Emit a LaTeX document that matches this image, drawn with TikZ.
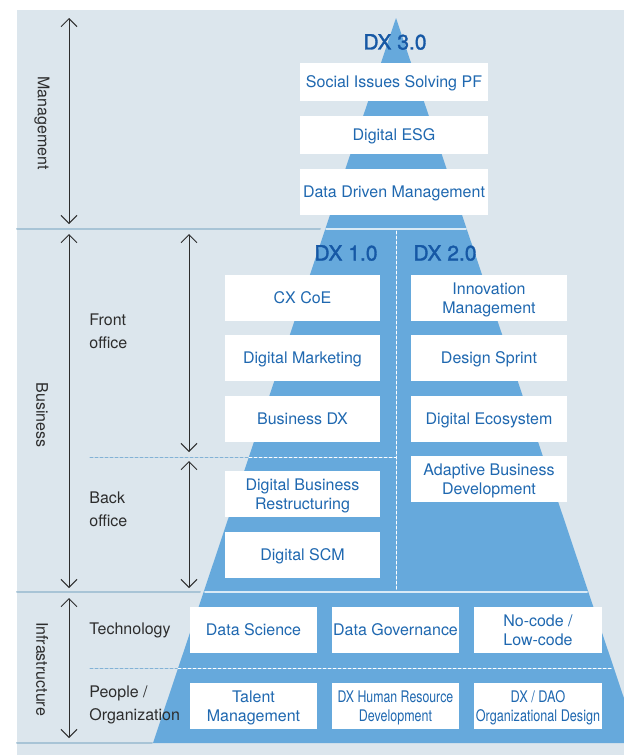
\documentclass[tikz,border=0pt]{standalone}
\usepackage{fontspec}
\usepackage{graphicx}
\setmainfont{TeX Gyre Heros}
\newfontfamily\dxmedium[FakeBold=1.6]{TeX Gyre Heros}
\usetikzlibrary{arrows.meta}
\definecolor{dxbg}{RGB}{220,230,237}
\definecolor{dxpyr}{RGB}{102,169,220}
\definecolor{dxtext}{RGB}{31,104,176}
\definecolor{dxtitle}{RGB}{22,88,165}
\definecolor{dxrule}{RGB}{168,196,214}
\definecolor{dxdash}{RGB}{130,178,214}
\definecolor{dxink}{RGB}{45,45,45}

\begin{document}
\begin{tikzpicture}[x=0.5pt,y=-0.5pt,line cap=round,line join=round,
  font=\fontsize{8}{9.3}\selectfont,
  card/.style={fill=white,inner sep=0pt,text=dxtext,align=center,minimum height=23pt,text depth=0pt},
  dxtitle/.style={font=\fontsize{10.5}{12}\selectfont\dxmedium,text=dxtitle,inner sep=0pt},
  sidelabel/.style={font=\fontsize{8}{11.5}\selectfont,text=dxink,align=left,anchor=west,inner sep=0pt},
  layerlabel/.style={text=dxink,rotate=-90,inner sep=0pt},
  span/.style={{Straight Barb[length=4pt,width=8pt]}-{Straight Barb[length=4pt,width=8pt]},dxink,line width=0.5pt},
  rule/.style={dxrule,line width=1pt},
  whiterule/.style={white!75!dxpyr,line width=1pt},
  dashrule/.style={dxdash,line width=0.5pt,dash pattern=on 1.5pt off 1pt},
  whitedash/.style={white,line width=0.5pt,dash pattern=on 1.5pt off 1pt}]
\useasboundingbox (0,0) rectangle (624,755);
\fill[dxbg] (17,10) rectangle (624,755);
\begin{scope}
\clip (17,10) rectangle (624,755);
\fill[dxpyr] (396,18) -- (153,743) -- (639,743) -- cycle;
\end{scope}
% layer rules
\draw[rule] (17,229) -- (320,229);
\draw[whiterule] (326,229) -- (466,229);
\draw[rule] (17,592) -- (200,592);
\draw[whiterule] (205,592) -- (587,592);
\draw[rule] (17,743) -- (152,743);
% sub-layer dashes
\draw[dashrule] (90,457) -- (249,457);
\draw[whitedash] (249,457) -- (396,457);
\draw[dashrule] (90,668) -- (178,668);
\draw[whitedash] (178,668) -- (613,668);
\draw[whitedash] (396,231) -- (396,590);
% DX 3.0
\node[dxtitle] (t30) at (395,42) {DX 3.0};
\node[card,minimum width=94pt,minimum height=19pt] (social) at (394,82) {Social Issues Solving PF};
\node[card,minimum width=94pt,minimum height=19pt] (esg) at (394,135) {Digital ESG};
\node[card,minimum width=94pt] (ddm) at (394,192) {Data Driven Management};
% DX 1.0
\node[dxtitle] (t10) at (346,253) {DX 1.0};
\node[card,minimum width=77.5pt] (cxcoe) at (302.5,298) {CX CoE};
\node[card,minimum width=77.5pt] (dmkt) at (302.5,358) {Digital Marketing};
\node[card,minimum width=77.5pt] (bdx) at (302.5,419) {Business DX};
\node[card,minimum width=77.5pt] (dbr) at (302.5,494) {Digital Business\\Restructuring};
\node[card,minimum width=77.5pt] (dscm) at (302.5,555) {Digital SCM};
% DX 2.0
\node[dxtitle] (t20) at (445,253) {DX 2.0};
\node[card,minimum width=78pt] (innov) at (489,298) {Innovation\\Management};
\node[card,minimum width=78pt] (sprint) at (489,358) {Design Sprint};
\node[card,minimum width=78pt] (eco) at (489,419) {Digital Ecosystem};
\node[card,minimum width=78pt] (abd) at (489,479) {Adaptive Business\\Development};
% infrastructure
\node[card,minimum width=63.5pt] (dsci) at (253.5,630) {Data Science};
\node[card,minimum width=63.5pt] (dgov) at (395.5,630) {Data Governance};
\node[card,minimum width=64pt] (nocode) at (538,630) {No-code /\\Low-code};
\node[card,minimum width=63.5pt] (talent) at (253.5,706) {Talent\\Management};
\node[card,minimum width=63.5pt] (dxhr) at (395.5,706) {\scalebox{0.77}[1]{DX Human Resource}\\\scalebox{0.78}[1]{Development}};
\node[card,minimum width=64pt] (dao) at (538,706) {\scalebox{0.8}[1]{DX / DAO}\\\scalebox{0.79}[1]{Organizational Design}};
% side labels
\node[layerlabel] (lmgmt) at (42,123) {Management};
\node[layerlabel] (lbiz) at (42,415) {Business};
\node[layerlabel] (linfra) at (42,669) {Infrastructure};
\node[sidelabel] (lfront) at (89,331) {Front\\office};
\node[sidelabel] (lback) at (89,509) {Back\\office};
\node[sidelabel] (ltech) at (89,630) {Technology};
\node[sidelabel] (lpeople) at (89,705) {People /\\Organization};
% spans
\coordinate (mgtop) at (69,18);
\coordinate (mgbot) at (69,224);
\coordinate (bztop) at (69,234);
\coordinate (bzbot) at (69,588);
\coordinate (frtop) at (189,234);
\coordinate (frbot) at (189,452);
\coordinate (bktop) at (189,461);
\coordinate (bkbot) at (189,588);
\coordinate (iftop) at (69,598);
\coordinate (ifbot) at (69,738);
\draw[span] (mgtop) -- (mgbot);
\draw[span] (bztop) -- (bzbot);
\draw[span] (frtop) -- (frbot);
\draw[span] (bktop) -- (bkbot);
\draw[span] (iftop) -- (ifbot);
\end{tikzpicture}
\end{document}
